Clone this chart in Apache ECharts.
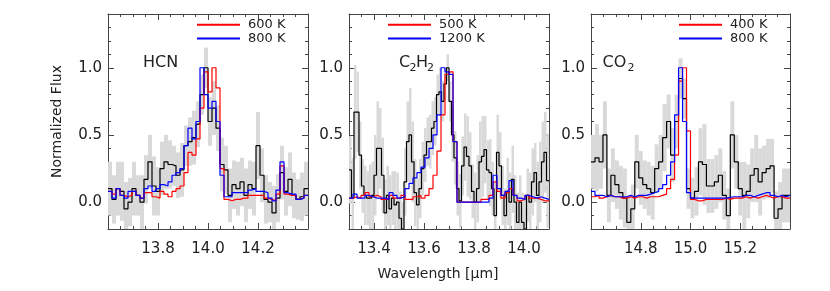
<!DOCTYPE html>
<html><head><meta charset="utf-8">
<script src="https://cdn.jsdelivr.net/npm/echarts@6/dist/echarts.min.js"></script>
<style>html,body{margin:0;padding:0;background:#fff}#c{width:830px;height:291px}</style>
</head><body><div id="c"></div>
<script>
// ---------------- DATA ----------------
// HCN panel
const hcnRange = [13.6, 14.4];
const hcnTicks = [13.8, 14.0, 14.2];
const hcnObsStart = 13.6, hcnObsStep = 0.016;
const hcnModStart = 13.6, hcnModStep = 0.016;
const hcnObs = [0.1,0.02,0.1,0.08,-0.05,0.0,0.1,0.05,0.0,0.17, 0.3,0.12,0.08,0.25,0.3,0.28,0.27,0.2,0.24,0.42, 0.45,0.48,0.58,0.8,1.0,0.6,0.7,0.55,0.28,0.24, 0.05,0.13,0.1,0.15,0.05,0.13,0.1,0.42,0.2,0.02, 0.0,-0.08,0.03,0.22,0.08,0.17,0.05,0.02,0.04,0.1];
const hcnErr = [0.2,0.18,0.2,0.22,0.2,0.18,0.2,0.15,0.2,0.18, 0.2,0.22,0.18,0.2,0.2,0.18,0.15,0.17,0.2,0.15, 0.18,0.2,0.17,0.15,0.15,0.18,0.2,0.17,0.2,0.18, 0.2,0.18,0.2,0.18,0.2,0.18,0.2,0.25,0.2,0.18, 0.15,0.2,0.18,0.2,0.18,0.2,0.17,0.15,0.18,0.2];
const hcnRed = [0.08,0.06,0.1,0.05,0.04,0.05,0.08,0.05,0.03,0.07, 0.07,0.04,0.03,0.08,0.06,0.04,0.08,0.1,0.12,0.22, 0.37,0.35,0.47,0.7,0.97,0.82,1.0,0.85,0.25,0.02, 0.01,0.02,0.02,0.03,0.03,0.05,0.05,0.05,0.05,0.03, 0.02,0.01,0.06,0.27,0.06,0.05,0.05,0.02,0.03,0.05];
const hcnBlue = [0.08,0.03,0.1,0.05,0.03,0.08,0.08,0.05,0.03,0.1, 0.12,0.08,0.1,0.13,0.12,0.15,0.2,0.22,0.25,0.42, 0.55,0.47,0.6,1.0,0.8,0.7,0.75,0.6,0.2,0.04, 0.04,0.07,0.07,0.07,0.07,0.09,0.1,0.08,0.08,0.07, 0.03,0.01,0.09,0.3,0.07,0.06,0.06,0.02,0.03,0.05];
const hcnNames = ['600 K', '800 K'];

// C2H2 panel
const c2h2Range = [13.3, 14.1];
const c2h2Ticks = [13.4, 13.6, 13.8, 14.0];
const c2h2ObsStart = 13.3, c2h2ObsStep = 0.01;
const c2h2ModStart = 13.3, c2h2ModStep = 0.016;
const c2h2Obs = [0.24,0.03,0.67,0.67,0.35,0.12,0.05,0.03,0.03,0.05, 0.2,0.4,0.4,0.2,-0.08,0.05,-0.05,0.03,-0.02,0.0, -0.12,-0.2,0.15,0.45,0.5,0.3,0.07,-0.02,0.1,0.25, 0.35,0.45,0.45,0.55,0.6,0.8,0.82,0.75,0.88,1.0, 0.75,0.5,0.33,0.1,0.01,0.27,0.41,0.34,0.27,0.08, 0.0,0.1,0.3,0.34,0.39,0.24,0.22,0.1,-0.1,0.37, 0.27,0.05,-0.1,0.08,0.0,0.17,0.0,-0.15,0.0,-0.15, -0.2,0.05,0.0,0.15,0.22,0.05,0.15,0.3,0.37,0.16];
const c2h2Err = [0.25,0.3,0.35,0.3,0.25,0.2,0.22,0.2,0.25,0.25, 0.3,0.35,0.3,0.28,0.25,0.22,0.25,0.2,0.25,0.22, 0.2,0.2,0.25,0.3,0.35,0.3,0.25,0.2,0.22,0.2, 0.2,0.18,0.2,0.2,0.18,0.15,0.18,0.15,0.12,0.1, 0.15,0.2,0.2,0.2,0.2,0.22,0.25,0.3,0.25,0.2, 0.22,0.25,0.3,0.3,0.25,0.22,0.25,0.2,0.25,0.28, 0.25,0.22,0.2,0.25,0.22,0.25,0.2,0.22,0.2,0.22, 0.25,0.2,0.22,0.25,0.22,0.25,0.3,0.3,0.3,0.35];
const c2h2Red = [0.03,0.04,0.03,0.05,0.07,0.04,0.05,0.04,0.02,0.02, 0.05,0.03,0.03,0.05,0.02,0.02,0.04,0.05,0.03,0.05, 0.1,0.2,0.38,0.65,0.95,0.97,0.45,0.0,0.0,0.0, 0.0,0.0,0.0,0.02,0.02,0.05,0.15,0.08,0.03,0.07, 0.1,0.05,0.01,0.02,0.05,0.03,0.03,0.02,0.01,0.01];
const c2h2Blue = [0.03,0.06,0.03,0.03,0.05,0.04,0.03,0.03,0.03,0.02, 0.07,0.05,0.03,0.04,0.1,0.14,0.18,0.22,0.26,0.33, 0.4,0.5,0.65,1.0,0.97,0.95,0.45,0.0,0.0,0.0, 0.0,0.0,0.0,0.0,0.0,0.03,0.2,0.1,0.05,0.08, 0.16,0.05,0.03,0.02,0.05,0.04,0.03,0.04,0.03,0.02];
const c2h2Names = ['500 K', '1200 K'];

// CO2 panel
const co2Range = [14.6, 15.4];
const co2Ticks = [14.8, 15.0, 15.2];
const co2ObsStart = 14.6, co2ObsStep = 0.016;
const co2ModStart = 14.6, co2ModStep = 0.016;
const co2Obs = [0.3,0.33,0.3,0.5,0.05,0.2,0.13,0.07,0.03,-0.15, -0.05,0.3,0.18,0.13,0.1,0.07,0.25,0.3,0.48,0.6, 0.35,0.6,0.92,0.77,0.1,0.03,0.08,0.3,0.28,0.12, 0.12,0.15,0.2,0.05,-0.1,0.5,0.3,0.1,0.05,0.08, 0.2,0.25,0.15,0.22,0.25,0.27,-0.12,-0.05,0.05,0.05];
const co2Err = [0.2,0.25,0.2,0.25,0.2,0.2,0.18,0.2,0.22,0.2, 0.18,0.2,0.2,0.18,0.2,0.2,0.18,0.2,0.25,0.2, 0.2,0.2,0.15,0.15,0.15,0.15,0.18,0.25,0.3,0.2, 0.2,0.2,0.2,0.18,0.2,0.25,0.2,0.2,0.25,0.2, 0.2,0.25,0.25,0.2,0.22,0.2,0.2,0.2,0.2,0.2];
const co2Red = [0.04,0.05,0.03,0.04,0.05,0.04,0.04,0.03,0.03,0.04, 0.03,0.04,0.04,0.03,0.04,0.04,0.04,0.05,0.06,0.1, 0.17,0.35,0.9,1.0,0.53,0.02,0.01,0.01,0.02,0.02, 0.02,0.02,0.02,0.03,0.02,0.03,0.03,0.03,0.04,0.03, 0.04,0.03,0.04,0.05,0.04,0.03,0.04,0.04,0.03,0.03];
const co2Blue = [0.08,0.05,0.05,0.04,0.05,0.04,0.04,0.04,0.04,0.05, 0.04,0.05,0.05,0.05,0.06,0.07,0.08,0.1,0.13,0.2, 0.3,0.65,1.0,0.6,0.07,0.03,0.03,0.03,0.03,0.03, 0.03,0.03,0.03,0.03,0.035,0.04,0.04,0.04,0.05,0.05, 0.04,0.05,0.06,0.07,0.07,0.05,0.04,0.05,0.04,0.05];
const co2Names = ['400 K', '800 K'];

const yRange = [-0.2, 1.4];
const yTicks = [0.0, 0.5, 1.0];

// ---------------- CHART ----------------
const FONT = 'DejaVu Sans';
const AX = '#444', TXT = '#222';
const panels = [
  {range:hcnRange, ticks:hcnTicks, obs:hcnObs, err:hcnErr, oS:hcnObsStart, oD:hcnObsStep, mS:hcnModStart, mD:hcnModStep, red:hcnRed, blue:hcnBlue, names:hcnNames, grid:{left:108, top:14, width:200, height:215}, legLeft:196},
  {range:c2h2Range, ticks:c2h2Ticks, obs:c2h2Obs, err:c2h2Err, oS:c2h2ObsStart, oD:c2h2ObsStep, mS:c2h2ModStart, mD:c2h2ModStep, red:c2h2Red, blue:c2h2Blue, names:c2h2Names, grid:{left:349, top:14, width:200, height:215}, legLeft:387},
  {range:co2Range, ticks:co2Ticks, obs:co2Obs, err:co2Err, oS:co2ObsStart, oD:co2ObsStep, mS:co2ModStart, mD:co2ModStep, red:co2Red, blue:co2Blue, names:co2Names, grid:{left:591, top:14, width:199, height:215}, legLeft:678}
];

function stepPts(vals, start, step) {
  const pts = vals.map((v, i) => [start + i * step, v]);
  pts.push([start + vals.length * step, vals[vals.length - 1]]);
  return pts;
}

const grids = [], xAxes = [], yAxes = [], series = [], legends = [];
panels.forEach((p, g) => {
  grids.push(p.grid);
  const line = {show:true, onZero:false, lineStyle:{color:AX, width:1}};
  const noLine = {show:false, onZero:false};
  const xb = {gridIndex:g, type:'value', min:p.range[0], max:p.range[1], splitLine:{show:false}, silent:true};
  xAxes.push(Object.assign({}, xb, {position:'bottom', interval:0.05, axisLine:line,
    axisTick:{show:true, inside:true, length:3, lineStyle:{color:AX}},
    axisLabel:{show:true, customValues:p.ticks, formatter:v => v.toFixed(1), fontSize:15, fontFamily:FONT, color:TXT, margin:13}}));
  xAxes.push(Object.assign({}, xb, {position:'bottom', axisLine:noLine,
    axisTick:{show:true, inside:true, length:6, customValues:p.ticks, lineStyle:{color:AX}}, axisLabel:{show:false}}));
  xAxes.push(Object.assign({}, xb, {position:'top', interval:0.05, axisLine:line,
    axisTick:{show:true, inside:true, length:3, lineStyle:{color:AX}}, axisLabel:{show:false}}));
  xAxes.push(Object.assign({}, xb, {position:'top', axisLine:noLine,
    axisTick:{show:true, inside:true, length:6, customValues:p.ticks, lineStyle:{color:AX}}, axisLabel:{show:false}}));

  const yb = {gridIndex:g, type:'value', min:yRange[0], max:yRange[1], splitLine:{show:false}, silent:true};
  yAxes.push(Object.assign({}, yb, {position:'left', interval:0.1, axisLine:line,
    axisTick:{show:true, inside:true, length:3, lineStyle:{color:AX}},
    axisLabel:{show:true, customValues:yTicks, formatter:v => v.toFixed(1), fontSize:15, fontFamily:FONT, color:TXT, margin:6}}));
  yAxes.push(Object.assign({}, yb, {position:'left', axisLine:noLine,
    axisTick:{show:true, inside:true, length:6, customValues:yTicks, lineStyle:{color:AX}}, axisLabel:{show:false}}));
  yAxes.push(Object.assign({}, yb, {position:'right', interval:0.1, axisLine:line,
    axisTick:{show:true, inside:true, length:3, lineStyle:{color:AX}}, axisLabel:{show:false}}));
  yAxes.push(Object.assign({}, yb, {position:'right', axisLine:noLine,
    axisTick:{show:true, inside:true, length:6, customValues:yTicks, lineStyle:{color:AX}}, axisLabel:{show:false}}));

  const xi = 4 * g, yi = 4 * g;
  const grayData = p.obs.map((v, i) => [p.oS + i * p.oD, p.oS + (i + 1) * p.oD, v - p.err[i], v + p.err[i]]);
  series.push({type:'custom', xAxisIndex:xi, yAxisIndex:yi, clip:true, silent:true, z:1, data:grayData,
    renderItem:(params, api) => {
      const a = api.coord([api.value(0), api.value(3)]);
      const b = api.coord([api.value(1), api.value(2)]);
      return {type:'rect', shape:{x:a[0], y:a[1], width:b[0] - a[0], height:b[1] - a[1]}, style:{fill:'#d9d9d9'}};
    }});
  const mk = (name, data, color, z) => ({type:'line', name:name, xAxisIndex:xi, yAxisIndex:yi, data:data, step:'end',
    symbol:'none', silent:true, z:z, clip:true, lineStyle:{color:color, width:1.2}, itemStyle:{color:color}});
  series.push(mk('obs' + g, stepPts(p.obs, p.oS, p.oD), '#000000', 2));
  series.push(mk(p.names[0], stepPts(p.red, p.mS, p.mD), '#ff0000', 3));
  series.push(mk(p.names[1], stepPts(p.blue, p.mS, p.mD), '#0000ff', 4));
  legends.push({data:p.names, left:p.legLeft, top:18, orient:'vertical', itemWidth:43, itemHeight:13.6, itemGap:0,
    selectedMode:false, padding:0, itemStyle:{color:'transparent', borderWidth:0, opacity:0},
    textStyle:{fontSize:13, lineHeight:13.6, fontFamily:FONT, color:TXT, padding:[0,0,0,3]}});
});

const T = (txt, x, y, size) => ({type:'text', x:x, y:y, silent:true,
  style:{text:txt, fontSize:size, fontFamily:FONT, fill:TXT, align:'left', verticalAlign:'middle', textAlign:'left', textVerticalAlign:'middle'}});

const graphic = [
  {type:'text', x:57, y:121.5, rotation:Math.PI / 2, silent:true,
   style:{text:'Normalized Flux', fontSize:14, fontFamily:FONT, fill:TXT, align:'center', verticalAlign:'middle', textAlign:'center', textVerticalAlign:'middle'}},
  {type:'text', x:438, y:274, silent:true,
   style:{text:'Wavelength [μm]', fontSize:14, fontFamily:FONT, fill:TXT, align:'center', verticalAlign:'middle', textAlign:'center', textVerticalAlign:'middle'}},
  T('HCN', 143, 63, 16),
  T('C', 399, 63, 16), T('2', 409.5, 68, 11), T('H', 416, 63, 16), T('2', 427, 68, 11),
  T('CO', 602.5, 63, 16), T('2', 627.5, 68.5, 11)
];

const chart = echarts.init(document.getElementById('c'), null, {renderer:'canvas'});
chart.setOption({animation:false, backgroundColor:'#fff', grid:grids, xAxis:xAxes, yAxis:yAxes, series:series, legend:legends, graphic:graphic});
</script></body></html>
